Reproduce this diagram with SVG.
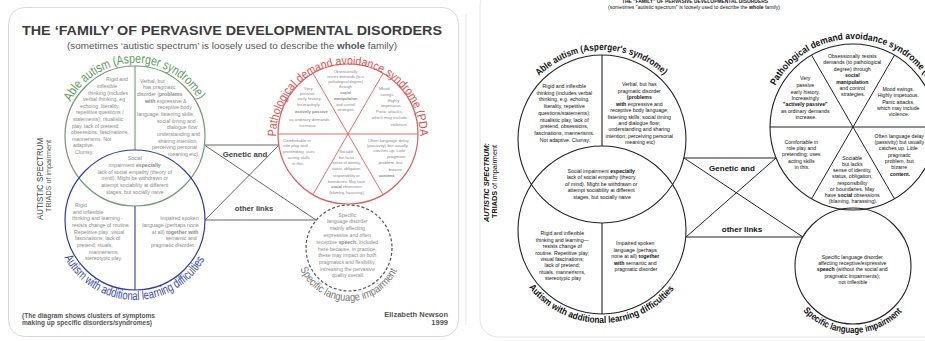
<svg xmlns="http://www.w3.org/2000/svg" width="925" height="341" viewBox="0 0 925 341">
<style>
text{font-family:"Liberation Sans",Arial,sans-serif}
.lt{font-size:5.2px;fill:#8a8a8a}
.ps{font-size:3.8px;fill:#8a8a8a;text-anchor:middle}
.pm{font-size:4.3px;fill:#8a8a8a;text-anchor:middle}
.sl{font-size:5.1px;fill:#8a8a8a;text-anchor:middle}
.rt{font-size:5.2px;fill:#111;text-anchor:middle}
.b{font-weight:bold}
.lc{fill:none;stroke:#666;stroke-width:1}
.rc{fill:none;stroke:#222;stroke-width:1}
.ro{fill:none;stroke:#222;stroke-width:1.1}
.arcR{font-size:9.5px;font-weight:bold;fill:#111}
</style>
<defs>
<path id="pGl" d="M70.5 101.7 A73 73 0 0 1 199.5 101.7"/>
<path id="pRl" d="M276 136.5 A72 72 0 1 1 420 136.5"/>
<path id="pBl" d="M64.4 257.6 A80 80 0 0 0 205.6 257.6"/>
<path id="pSl" d="M300.2 268.7 A53 53 0 0 0 397.8 268.7"/>
<path id="pGr" d="M539.1 76.1 A89 89 0 0 1 664.9 76.1"/>
<path id="pRr" d="M775.3 85.7 A88 88 0 0 1 934.6 94"/>
<path id="pBr" d="M528.7 287.3 A93 93 0 0 0 675.3 287.3"/>
<path id="pSr" d="M803.2 310.8 A67 67 0 0 0 902.8 310.8"/>
</defs>
<rect width="925" height="341" fill="#fff"/>

<!-- LEFT PANEL -->
<g id="left-frame">
<rect x="8.5" y="7.5" width="450" height="329" rx="16" fill="none" stroke="#d5dadd"/>
<line x1="466" y1="14" x2="466" y2="325" stroke="#e1e5e8"/>
<text x="232" y="35" text-anchor="middle" font-size="13.5" font-weight="bold" fill="#3c3c3c" textLength="420" lengthAdjust="spacingAndGlyphs">THE ‘FAMILY’ OF PERVASIVE DEVELOPMENTAL DISORDERS</text>
<text x="232" y="49" text-anchor="middle" font-size="9.5" fill="#555" textLength="330" lengthAdjust="spacingAndGlyphs">(sometimes ‘autistic spectrum’ is loosely used to describe the <tspan class="b">whole</tspan> family)</text>
<text transform="translate(42.5,179) rotate(-90)" text-anchor="middle" font-size="8.5" fill="#444" textLength="82" lengthAdjust="spacingAndGlyphs">AUTISTIC SPECTRUM</text>
<text transform="translate(51,176) rotate(-90)" text-anchor="middle" font-size="7" fill="#555" textLength="72" lengthAdjust="spacingAndGlyphs">TRIADS of impairment</text>
<text x="22" y="317.5" font-size="7" font-weight="bold" fill="#555" textLength="133" lengthAdjust="spacingAndGlyphs">(The diagram shows clusters of symptoms</text>
<text x="22" y="325" font-size="7" font-weight="bold" fill="#555" textLength="130" lengthAdjust="spacingAndGlyphs">making up specific disorders/syndromes)</text>
<text x="448" y="317" text-anchor="end" font-size="7.5" font-weight="bold" fill="#555">Elizabeth Newson</text>
<text x="448" y="324.5" text-anchor="end" font-size="7.5" font-weight="bold" fill="#555">1999</text>
</g>

<g id="left-connectors">
<path class="lc" d="M204.4 145 L279 145 M204.4 145 L316 220 M279 145 L205 220 M205 220 L316 220"/>
<text x="245" y="157" text-anchor="middle" font-size="7.8" font-weight="bold" fill="#444">Genetic and</text>
<text x="254" y="211" text-anchor="middle" font-size="7.6" font-weight="bold" fill="#444">other links</text>
</g>

<g id="left-able-autism">
<circle cx="135" cy="136" r="70" fill="none" stroke="#6f9a6f" stroke-width="1.2"/>
<line x1="135" y1="66" x2="135" y2="150" stroke="#6f9a6f" stroke-width="1.1"/>
<text font-size="13" fill="#5d9a5d"><textPath href="#pGl" textLength="156" lengthAdjust="spacingAndGlyphs">Able autism (Asperger syndrome)</textPath></text>
<text class="lt">
<tspan x="106" y="81.3">Rigid and</tspan>
<tspan x="97" y="87.9">inflexible</tspan>
<tspan x="88" y="94.5">thinking (includes</tspan>
<tspan x="83" y="101.1">verbal thinking, eg</tspan>
<tspan x="80" y="107.7">echoing, literality,</tspan>
<tspan x="76" y="114.3">repetitive questions /</tspan>
<tspan x="73" y="120.9">statements); ritualistic</tspan>
<tspan x="72" y="127.5">play, lack of pretend,</tspan>
<tspan x="71" y="134.1">obsessions, fascinations,</tspan>
<tspan x="72" y="140.7">mannerisms.  Not</tspan>
<tspan x="73" y="147.3">adaptive.</tspan>
<tspan x="75" y="153.9">Clumsy.</tspan>
</text>
<text class="lt">
<tspan x="140" y="82.7">Verbal, but</tspan>
<tspan x="143" y="89.4">has pragmatic</tspan>
<tspan x="137" y="96">disorder (<tspan class="b">problems</tspan></tspan>
<tspan x="145" y="102.7"><tspan class="b">with</tspan> expressive &amp;</tspan>
<tspan x="158" y="109.4">receptive body</tspan>
<tspan x="137" y="116">language; listening skills;</tspan>
<tspan x="157" y="122.7">social timing and</tspan>
<tspan x="167" y="129.4">dialogue flow:</tspan>
<tspan x="157" y="136">understanding and</tspan>
<tspan x="158" y="142.7">sharing intention;</tspan>
<tspan x="152" y="149.4">perceiving personal</tspan>
<tspan x="168" y="156">meaning etc).</tspan>
</text>
</g>

<g id="left-social">
<text class="lt" text-anchor="middle">
<tspan x="135.5" y="160.3">Social</tspan>
<tspan x="135.5" y="167">impairment <tspan class="b">especially</tspan></tspan>
<tspan x="135.5" y="173.7">lack of social empathy (theory of</tspan>
<tspan x="135.5" y="180.3">mind).  Might be withdrawn or</tspan>
<tspan x="135.5" y="187">attempt sociability at different</tspan>
<tspan x="135.5" y="193.7">stages, but socially naive.</tspan>
</text>
</g>

<g id="left-learning">
<circle cx="135" cy="220" r="70" fill="none" stroke="#2f3f98" stroke-width="1.2"/>
<line x1="135" y1="206" x2="135" y2="290" stroke="#2f3f98" stroke-width="1.1"/>
<text font-size="12.5" fill="#3b4ba5"><textPath href="#pBl" textLength="171" lengthAdjust="spacingAndGlyphs">Autism with additional learning difficulties</textPath></text>
<text class="lt">
<tspan x="75" y="207">Rigid</tspan>
<tspan x="73" y="213.7">and inflexible</tspan>
<tspan x="72" y="220.3">thinking and learning -</tspan>
<tspan x="72" y="227">resists change of routine.</tspan>
<tspan x="74" y="233.7">Repetitive play; visual</tspan>
<tspan x="75" y="240.3">fascinations; lack of</tspan>
<tspan x="77" y="247">pretend; rituals,</tspan>
<tspan x="89" y="253.7">mannerisms,</tspan>
<tspan x="85" y="260.3">stereotypic play.</tspan>
</text>
<text class="lt" text-anchor="end">
<tspan x="200" y="220.3">Impaired spoken</tspan>
<tspan x="200" y="227">language (perhaps none</tspan>
<tspan x="200" y="233.7">at all) <tspan class="b">together with</tspan></tspan>
<tspan x="198" y="240.3">semantic and</tspan>
<tspan x="195" y="247">pragmatic  disorder.</tspan>
</text>
</g>

<g id="left-pda">
<circle cx="348" cy="134" r="70" fill="none" stroke="#d8605a" stroke-width="1.2"/>
<path d="M278 134 H418 M383 73.4 L313 194.6 M313 73.4 L383 194.6" fill="none" stroke="#d8605a" stroke-width="0.9"/>
<text font-size="12" fill="#d9534f"><textPath href="#pRl" textLength="229" lengthAdjust="spacingAndGlyphs">Pathological demand avoidance syndrome (PDA)</textPath></text>
<text class="ps">
<tspan x="346" y="73.2">Obsessionally</tspan>
<tspan x="346" y="78.2">resists demands (to a</tspan>
<tspan x="346" y="83.2">pathological degree)</tspan>
<tspan x="346" y="88.2">through</tspan>
<tspan x="346" y="93.8" class="b">social</tspan>
<tspan x="346" y="99.8" class="b">manipulation</tspan>
<tspan x="346" y="105.5">and control</tspan>
<tspan x="346" y="110.8">strategies.</tspan>
</text>
<text class="pm">
<tspan x="309" y="89.8">Very</tspan>
<tspan x="308" y="94.8">passive</tspan>
<tspan x="310" y="99.8">early history.</tspan>
<tspan x="309" y="105.5">Increasingly</tspan>
<tspan x="312" y="113.2">‘<tspan class="b">actively passive</tspan>’</tspan>
<tspan x="310" y="120.8">as ordinary demands</tspan>
<tspan x="308" y="126.5">increase.</tspan>
</text>
<text class="pm">
<tspan x="385" y="89.8">Mood</tspan>
<tspan x="388" y="95.5">swings.</tspan>
<tspan x="394" y="101.5">Highly</tspan>
<tspan x="392" y="107.2">impetuous.</tspan>
<tspan x="390" y="113.2">Panic attacks,</tspan>
<tspan x="390" y="118.8">which may include</tspan>
<tspan x="399" y="125.5">violence.</tspan>
</text>
<text class="pm" style="text-anchor:start">
<tspan x="283" y="141.5">Comfortable in</tspan>
<tspan x="283" y="147.2">role play and</tspan>
<tspan x="283" y="152.5">pretending; uses</tspan>
<tspan x="288" y="158.8">acting skills</tspan>
<tspan x="292" y="164.8">in this.</tspan>
</text>
<text class="ps">
<tspan x="347" y="153.2">Sociable</tspan>
<tspan x="347" y="158.8">but lacks</tspan>
<tspan x="347" y="163.8">sense of identity,</tspan>
<tspan x="347" y="169.8">status, obligation,</tspan>
<tspan x="347" y="176.5">responsibility or</tspan>
<tspan x="347" y="182.5">boundaries.  May have</tspan>
<tspan x="347" y="188.2"><tspan class="b">social</tspan> obsessions</tspan>
<tspan x="347" y="193.8">(blaming, harassing).</tspan>
</text>
<text class="pm">
<tspan x="389" y="141.5">Often language delay</tspan>
<tspan x="388" y="146.5">(passivity) but usually</tspan>
<tspan x="390" y="152.2">catches up.  Little</tspan>
<tspan x="397" y="157.5">pragmatic</tspan>
<tspan x="391" y="163.8">problem,  but</tspan>
<tspan x="396" y="170.5">bizarre</tspan>
<tspan x="387" y="177.2" class="b">content.</tspan>
</text>
</g>

<g id="left-sli">
<circle cx="349" cy="248" r="43" fill="none" stroke="#555" stroke-width="1.2" stroke-dasharray="3 2"/>
<text font-size="11" fill="#777"><textPath href="#pSl" textLength="122" lengthAdjust="spacingAndGlyphs">Specific language impairment</textPath></text>
<text class="sl">
<tspan x="348" y="216.5">Specific</tspan>
<tspan x="348" y="223.2">language disorder</tspan>
<tspan x="348" y="229.8">mainly affecting</tspan>
<tspan x="348" y="236.5">expressive and often</tspan>
<tspan x="348" y="243.8">receptive <tspan class="b">speech</tspan>.  Included</tspan>
<tspan x="348" y="250.5">here because, in practice,</tspan>
<tspan x="348" y="257.2">these may impact on both</tspan>
<tspan x="348" y="263.8">pragmatics and flexibility,</tspan>
<tspan x="348" y="270.5">increasing the pervasive</tspan>
<tspan x="348" y="276.5">quality overall.</tspan>
</text>
</g>

<!-- RIGHT PANEL -->
<g id="right-frame">
<rect x="480" y="-12" width="480" height="349" rx="18" fill="none" stroke="#dfe4e8"/>
<text x="695" y="3.2" text-anchor="middle" font-size="6" font-weight="bold" fill="#111" textLength="146" lengthAdjust="spacingAndGlyphs">THE "FAMILY" OF PERVASIVE DEVELOPMENTAL DISORDERS</text>
<text x="694" y="8.8" text-anchor="middle" font-size="5.3" fill="#111" textLength="172" lengthAdjust="spacingAndGlyphs">(sometimes "autistic spectrum" is loosely used to describe the <tspan class="b">whole</tspan> family)</text>
<text transform="translate(489,182.5) rotate(-90)" text-anchor="middle" font-size="8" font-weight="bold" font-style="italic" fill="#111" textLength="79" lengthAdjust="spacingAndGlyphs">AUTISTIC SPECTRUM:</text>
<text transform="translate(496.5,181.5) rotate(-90)" text-anchor="middle" font-size="7.5" fill="#111" textLength="73" lengthAdjust="spacingAndGlyphs"><tspan class="b">TRIADS</tspan> of impairment</text>
</g>

<g id="right-connectors">
<path class="rc" d="M684 158 L776 158 M684 158 L803 237 M776 158 L686 237 M686 237 L803 237"/>
<text x="732" y="171" text-anchor="middle" font-size="8" font-weight="bold" fill="#111">Genetic and</text>
<text x="742" y="232" text-anchor="middle" font-size="8" font-weight="bold" fill="#111">other links</text>
</g>

<g id="right-able-autism">
<circle class="ro" cx="602" cy="139" r="84"/>
<line class="ro" x1="602" y1="55" x2="602" y2="146"/>
<text class="arcR"><textPath href="#pGr" textLength="138" lengthAdjust="spacingAndGlyphs">Able autism (Asperger's syndrome)</textPath></text>
<text class="rt">
<tspan x="565" y="88">Rigid and inflexible</tspan>
<tspan x="565" y="94.7">thinking (includes verbal</tspan>
<tspan x="565" y="101.4">thinking, e.g. echoing,</tspan>
<tspan x="565" y="108.1">literality, repetitive</tspan>
<tspan x="565" y="114.8">questions/statements);</tspan>
<tspan x="565" y="121.5">ritualistic play, lack of</tspan>
<tspan x="565" y="128.2">pretend, obsessions,</tspan>
<tspan x="565" y="134.9">fascinations, mannerisms.</tspan>
<tspan x="565" y="141.6">Not adaptive. Clumsy.</tspan>
</text>
<text class="rt">
<tspan x="640" y="86.3">Verbal, but has</tspan>
<tspan x="640" y="92.7">pragmatic disorder</tspan>
<tspan x="640" y="99.3" class="b">(problems</tspan>
<tspan x="640" y="105.6"><tspan class="b">with</tspan> expressive and</tspan>
<tspan x="640" y="112">receptive body language;</tspan>
<tspan x="640" y="118.5">listening skills; social timing</tspan>
<tspan x="640" y="124.9">and dialogue flow;</tspan>
<tspan x="640" y="131.3">understanding and sharing</tspan>
<tspan x="640" y="137.7">intention; perceiving personal</tspan>
<tspan x="640" y="144">meaning etc)</tspan>
</text>
</g>

<g id="right-social">
<text class="rt">
<tspan x="602" y="172.7">Social impairment <tspan class="b">especially</tspan></tspan>
<tspan x="602" y="179.2">lack of social empathy (theory</tspan>
<tspan x="602" y="185.7">of mind). Might be withdrawn or</tspan>
<tspan x="602" y="192.2">attempt sociability at different</tspan>
<tspan x="602" y="198.7">stages, but socially naive</tspan>
</text>
</g>

<g id="right-learning">
<circle class="ro" cx="602" cy="230" r="84"/>
<line class="ro" x1="602" y1="223" x2="602" y2="314"/>
<text class="arcR"><textPath href="#pBr" textLength="167" lengthAdjust="spacingAndGlyphs">Autism with additional learning difficulties</textPath></text>
<text class="rt">
<tspan x="563" y="235.3">Rigid and inflexible</tspan>
<tspan x="563" y="241.6">thinking and learning—</tspan>
<tspan x="563" y="248">resists change of</tspan>
<tspan x="563" y="254.5">routine. Repetitive play;</tspan>
<tspan x="563" y="260.9">visual fascinations;</tspan>
<tspan x="563" y="267.3">lack of pretend;</tspan>
<tspan x="563" y="273.8">rituals, mannerisms,</tspan>
<tspan x="563" y="280.3">stereotypic play</tspan>
</text>
<text class="rt">
<tspan x="636" y="245.3">Impaired spoken</tspan>
<tspan x="636" y="251.7">language (perhaps</tspan>
<tspan x="636" y="258.1">none at all) <tspan class="b">together</tspan></tspan>
<tspan x="636" y="264.6"><tspan class="b">with</tspan> semantic and</tspan>
<tspan x="636" y="271.1">pragmatic disorder</tspan>
</text>
</g>

<g id="right-pda">
<circle class="ro" cx="853" cy="127" r="83"/>
<path class="rc" d="M770 127 H936 M894.5 55.1 L811.5 198.9 M811.5 55.1 L894.5 198.9"/>
<text class="arcR"><textPath href="#pRr" textLength="198" lengthAdjust="spacingAndGlyphs">Pathological demand avoidance syndrome (PDA)</textPath></text>
<text class="rt">
<tspan x="853" y="58.2">Obsessionally resists</tspan>
<tspan x="853" y="64.2">demands (to pathological</tspan>
<tspan x="853" y="70.5">degree) through</tspan>
<tspan x="853" y="77" class="b">social</tspan>
<tspan x="853" y="83.7" class="b">manipulation</tspan>
<tspan x="853" y="89.9">and control</tspan>
<tspan x="853" y="96.3">strategies.</tspan>
</text>
<text class="rt">
<tspan x="806" y="80.3">Very</tspan>
<tspan x="806" y="87">passive</tspan>
<tspan x="806" y="93.6">early history.</tspan>
<tspan x="806" y="99.6">Increasingly</tspan>
<tspan x="806" y="106.3" class="b">"actively passive"</tspan>
<tspan x="806" y="112.7">as ordinary demands</tspan>
<tspan x="806" y="119.3">increase.</tspan>
</text>
<text class="rt">
<tspan x="899" y="91">Mood swings.</tspan>
<tspan x="899" y="97.2">Highly impetuous.</tspan>
<tspan x="899" y="103.6">Panic attacks,</tspan>
<tspan x="899" y="109.8">which may include</tspan>
<tspan x="899" y="116">violence.</tspan>
</text>
<text class="rt">
<tspan x="802" y="143.7">Comfortable in</tspan>
<tspan x="802" y="150.1">role play and</tspan>
<tspan x="802" y="156.4">pretending; uses</tspan>
<tspan x="802" y="162.9">acting skills</tspan>
<tspan x="802" y="169.3">in this.</tspan>
</text>
<text class="rt">
<tspan x="853" y="159.7">Sociable</tspan>
<tspan x="853" y="165.9">but lacks</tspan>
<tspan x="853" y="172.1">sense of identity,</tspan>
<tspan x="853" y="178.4">status, obligation,</tspan>
<tspan x="853" y="184.6">responsibility</tspan>
<tspan x="853" y="190.7">or boundaries. May</tspan>
<tspan x="853" y="197">have <tspan class="b">social</tspan> obsessions</tspan>
<tspan x="853" y="203">(blaming, harassing).</tspan>
</text>
<text class="rt">
<tspan x="900" y="138">Often language delay</tspan>
<tspan x="900" y="144.3">(passivity) but usually</tspan>
<tspan x="899" y="150.4">catches up. Little</tspan>
<tspan x="900" y="156.5">pragmatic</tspan>
<tspan x="900" y="162.8">problem, but</tspan>
<tspan x="900" y="169.3">bizarre</tspan>
<tspan x="900" y="176.2" class="b">content.</tspan>
</text>
</g>

<g id="right-sli">
<circle class="ro" cx="853" cy="266" r="58"/>
<text class="arcR"><textPath href="#pSr" textLength="111" lengthAdjust="spacingAndGlyphs">Specific language impairment</textPath></text>
<text class="rt">
<tspan x="853" y="258.7">Specific language disorder</tspan>
<tspan x="853" y="264.9">affecting receptive/expressive</tspan>
<tspan x="853" y="271.3"><tspan class="b">speech</tspan> (without the social and</tspan>
<tspan x="853" y="277.8">pragmatic impairments);</tspan>
<tspan x="853" y="284.2">not inflexible</tspan>
</text>
</g>
</svg>
